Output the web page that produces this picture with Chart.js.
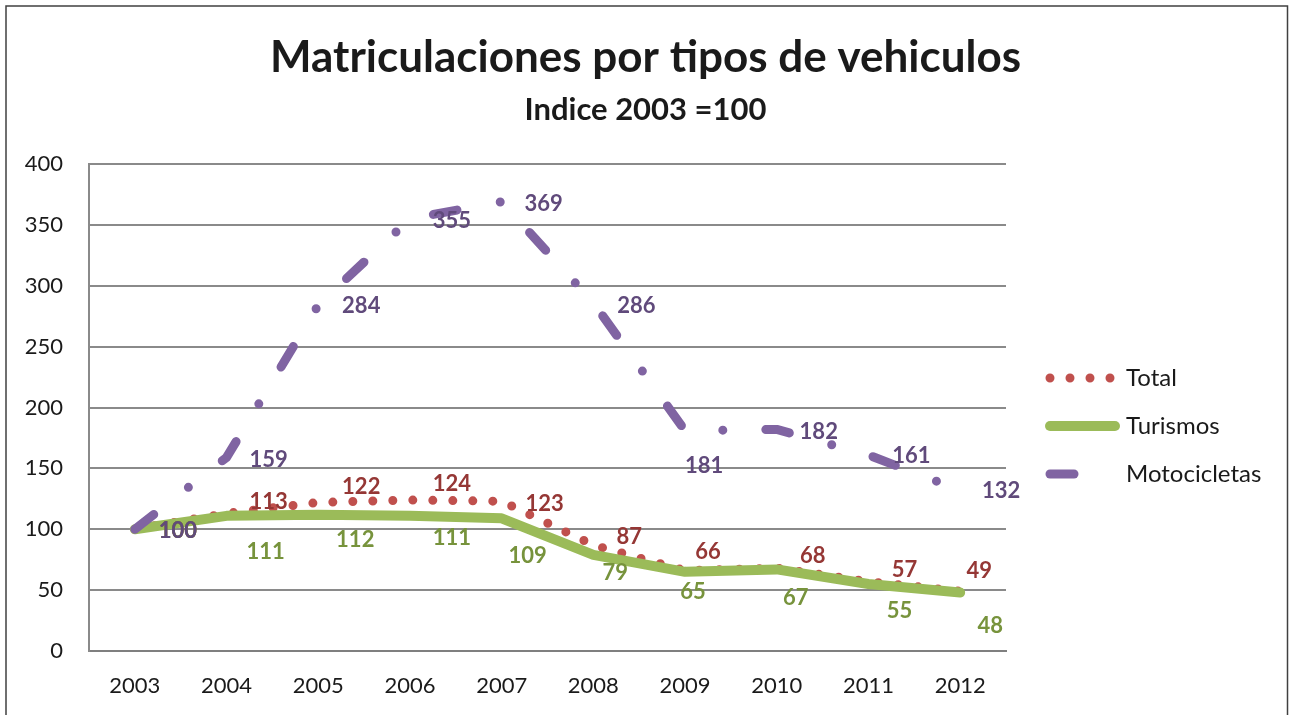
<!DOCTYPE html>
<html>
<head>
<meta charset="utf-8">
<title>Matriculaciones por tipos de vehiculos</title>
<script src="https://cdn.jsdelivr.net/npm/chart.js@4/dist/chart.umd.min.js"></script>
<style>
  html, body { margin: 0; padding: 0; background: #fff; }
  #wrap { width: 1291px; height: 715px; }
</style>
</head>
<body>
<div id="wrap"><canvas id="vehChart" width="1291" height="715"></canvas></div>
<script>
const years = ["2003", "2004", "2005", "2006", "2007", "2008", "2009", "2010", "2011", "2012"];
const total = [100, 113, 122, 124, 123, 87, 66, 68, 57, 49];
const turismos = [100, 111, 112, 111, 109, 79, 65, 67, 55, 48];
const motocicletas = [100, 159, 284, 355, 369, 286, 181, 182, 161, 132];
const yTicks = [0, 50, 100, 150, 200, 250, 300, 350, 400];

const FONT = "Lato";

// where each value label sits relative to its point (label centre)
const labelOffsets = {
  Total: [[43, 1], [42, -13], [43, -17], [42, -17], [43, 2], [36, -9], [23, -20], [36, -13], [36, -13], [19, -21]],
  Turismos: [[43, 1], [39, 35], [37, 24], [42, 21], [26, 37], [22, 17], [8, 19], [19, 27], [31, 26], [30, 32]],
  Motocicletas: [[43, 1], [42, 1], [43, 0], [42, 1], [42, 1], [43, 2], [19, 34], [42, 1], [43, 0], [41, 0]],
};

const valueLabels = {
  id: "valueLabels",
  afterDatasetsDraw(chart) {
    const ctx = chart.ctx;
    ctx.save();
    ctx.font = "bold 22px " + FONT;
    ctx.textAlign = "center";
    ctx.textBaseline = "middle";
    // draw in stacking order so purple ends on top
    [0, 1, 2].forEach((di) => {
      const ds = chart.data.datasets[di];
      const meta = chart.getDatasetMeta(di);
      const offs = labelOffsets[ds.label];
      ctx.fillStyle = ds.labelColor;
      meta.data.forEach((pt, i) => {
        ctx.fillText(String(ds.data[i]), pt.x + offs[i][0], pt.y + offs[i][1] + 1);
      });
    });
    ctx.restore();
  },
};

const sideLegend = {
  id: "sideLegend",
  afterDraw(chart) {
    const ctx = chart.ctx;
    ctx.save();
    // outer frame
    ctx.strokeStyle = "#404040";
    ctx.lineWidth = 1.5;
    ctx.strokeRect(6, 6, 1281.5, 800);

    const rows = [378, 426, 474];
    chart.data.datasets.forEach((ds, i) => {
      const y = rows[i];
      ctx.beginPath();
      ctx.strokeStyle = ds.borderColor;
      ctx.lineWidth = ds.borderWidth;
      ctx.lineCap = "round";
      ctx.setLineDash(ds.borderDash || []);
      ctx.moveTo(1050, y);
      ctx.lineTo(i === 0 ? 1111 : 1115, y);
      ctx.stroke();
      ctx.setLineDash([]);
      ctx.fillStyle = "#1a1a1a";
      ctx.font = "24px " + FONT;
      ctx.textAlign = "left";
      ctx.textBaseline = "middle";
      ctx.fillText(ds.label, 1126, y);
    });
    ctx.restore();
  },
};

new Chart(document.getElementById("vehChart"), {
  type: "line",
  data: {
    labels: years,
    datasets: [
      {
        label: "Total",
        data: total,
        borderColor: "#C0504D",
        labelColor: "#953735",
        borderWidth: 9,
        borderDash: [0, 20],
        borderCapStyle: "round",
        borderJoinStyle: "round",
        pointRadius: 0,
        order: 3,
      },
      {
        label: "Turismos",
        data: turismos,
        borderColor: "#9BBB59",
        labelColor: "#77933C",
        borderWidth: 10,
        borderCapStyle: "round",
        borderJoinStyle: "round",
        pointRadius: 0,
        order: 2,
      },
      {
        label: "Motocicletas",
        data: motocicletas,
        borderColor: "#8064A2",
        labelColor: "#604A7B",
        borderWidth: 9,
        borderDash: [24, 44, 0, 43],
        borderCapStyle: "round",
        borderJoinStyle: "round",
        pointRadius: 0,
        order: 1,
      },
    ],
  },
  options: {
    responsive: false,
    animation: false,
    layout: { padding: 0 },
    plugins: {
      legend: { display: false },
      tooltip: { enabled: false },
      title: {
        display: true,
        text: "Matriculaciones por tipos de vehiculos",
        color: "#1a1a1a",
        font: { family: FONT, size: 44, weight: "bold", lineHeight: 1.2 },
        padding: { top: 31, bottom: 0 },
      },
      subtitle: {
        display: true,
        text: "Indice 2003 =100",
        color: "#1a1a1a",
        font: { family: FONT, size: 31, weight: "bold", lineHeight: 1.2 },
        padding: { top: 8, bottom: 35 },
      },
    },
    scales: {
      x: {
        offset: true,
        grid: { display: false, drawTicks: false },
        border: { display: true, color: "#7f7f7f", width: 2 },
        ticks: {
          color: "#1a1a1a",
          padding: 22,
          font: { family: FONT, size: 22 },
        },
        afterFit(scale) {
          scale.height = 64;
        },
      },
      y: {
        min: 0,
        max: 400,
        grid: { color: "#8a8a8a", lineWidth: 2, drawTicks: false },
        border: { display: true, color: "#8a8a8a", width: 2 },
        afterBuildTicks(scale) {
          scale.ticks = yTicks.map((v) => ({ value: v }));
        },
        ticks: {
          color: "#1a1a1a",
          padding: 26,
          font: { family: FONT, size: 22 },
        },
        afterFit(scale) {
          scale.width = 89;
        },
      },
      // empty axis on the right that only keeps room for the legend
      legendSpace: {
        type: "linear",
        position: "right",
        min: 0,
        max: 400,
        grid: { display: false, drawTicks: false },
        border: { display: false },
        ticks: { display: false },
        afterFit(scale) {
          scale.width = 285;
        },
      },
    },
  },
  plugins: [valueLabels, sideLegend],
});
</script>
</body>
</html>
